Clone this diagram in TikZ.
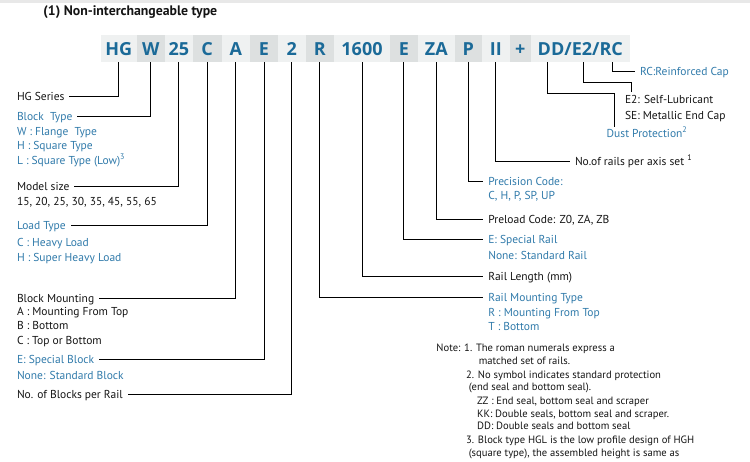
\documentclass[tikz,border=0pt]{standalone}
\usepackage{fontspec}
\setmainfont{PT Sans}
\newfontfamily\codefont{Open Sans}
\usetikzlibrary{calc}
\definecolor{codeblue}{RGB}{27,106,152}
\definecolor{lblue}{RGB}{48,122,170}
\definecolor{boxlight}{RGB}{239,241,241}
\definecolor{boxdark}{RGB}{221,224,224}
\definecolor{ink}{RGB}{20,20,20}
\definecolor{topstrip}{RGB}{232,232,232}
\begin{document}
\begin{tikzpicture}[x=1pt,y=-1pt,line width=0.9pt,
  codebox/.style={inner sep=0pt, outer sep=0pt, minimum height=27pt, text height=13pt, text depth=0pt,
    font=\codefont\bfseries\fontsize{18}{20}\selectfont, text=codeblue},
  lab/.style={anchor=west, inner xsep=0pt, inner ysep=0pt, outer xsep=5pt, outer ysep=0pt,
    text height=8.5pt, text depth=0.5pt, font=\fontsize{11.5}{13}\selectfont, text=ink},
  blab/.style={lab, text=lblue},
  notetxt/.style={anchor=west, inner sep=0pt, text height=7pt, text depth=0.5pt,
    font=\fontsize{10.6}{12}\selectfont, text=ink}]
\useasboundingbox (0,0) rectangle (750,461);
\fill[topstrip] (0,0) rectangle (750,3);

% title
\node[anchor=west, inner sep=0pt, font=\bfseries\fontsize{13.8}{15}\selectfont, text=ink] (title) at (43,12) {(1) Non-interchangeable type};

% code row
\node[codebox, fill=boxlight, minimum width=35.7pt] (hg) at (118.85,48.5) {HG};
\node[codebox, fill=boxdark, minimum width=28.3pt] (w) at (150.85,48.5) {W};
\node[codebox, fill=boxlight, minimum width=27.7pt] (sz) at (178.85,48.5) {25};
\node[codebox, fill=boxdark, minimum width=29pt] (ld) at (207.2,48.5) {C};
\node[codebox, fill=boxlight, minimum width=28.3pt] (mt) at (235.85,48.5) {A};
\node[codebox, fill=boxdark, minimum width=28pt] (sb) at (264,48.5) {E};
\node[codebox, fill=boxlight, minimum width=27.7pt] (nb) at (291.85,48.5) {2};
\node[codebox, fill=boxdark, minimum width=28.3pt] (rm) at (319.85,48.5) {R};
\node[codebox, fill=boxlight, minimum width=56pt] (len) at (362,48.5) {1600};
\node[codebox, fill=boxdark, minimum width=27.7pt] (sr) at (403.85,48.5) {E};
\node[codebox, fill=boxlight, minimum width=37.3pt] (za) at (436.35,48.5) {ZA};
\node[codebox, fill=boxdark, minimum width=26.7pt] (pr) at (468.35,48.5) {P};
\node[codebox, fill=boxlight, minimum width=28.3pt] (ii) at (495.85,48.5) {II};
\node[codebox, fill=boxdark, minimum width=20.7pt] (plus) at (520.35,48.5) {+};
\node[codebox, fill=boxlight, minimum width=99.3pt] (ddbox) at (580.35,48.5) {DD/E2/RC};
\coordinate (ddt) at (547.3,62);
\coordinate (e2t) at (583.3,62);
\coordinate (rct) at (612.5,62);

% left labels
\node[lab] (hgs) at (12,96) {HG Series};
\node[blab] (bt) at (12,116.5) {Block\ \ Type};
\node[blab] (bt1) at (12,131) {W : Flange\ \ Type};
\node[blab] (bt2) at (12,145.5) {H : Square Type};
\node[blab] (bt3) at (12,160) {L : Square Type (Low)\textsuperscript{3}};
\node[lab] (ms) at (12,186.7) {Model size};
\node[lab] (ms1) at (12,201) {15, 20, 25, 30, 35, 45, 55, 65};
\node[blab] (lt) at (12,225.7) {Load Type};
\node[blab] (lt1) at (12,242) {C : Heavy Load};
\node[blab] (lt2) at (12,257.5) {H : Super Heavy Load};
\node[lab] (bm) at (12,298) {Block Mounting};
\node[lab] (bm1) at (12,311.5) {A : Mounting From Top};
\node[lab] (bm2) at (12,325.5) {B : Bottom};
\node[lab] (bm3) at (12,340) {C : Top or Bottom};
\node[blab] (esb) at (12,359.5) {E: Special Block};
\node[blab] (esb1) at (12,375) {None: Standard Block};
\node[lab] (nbr) at (12,394) {No. of Blocks per Rail};

% right labels
\node[blab] (rcl) at (635,71.7) {RC:Reinforced Cap};
\node[lab] (e2l) at (620,99.7) {E2: Self-Lubricant};
\node[lab] (sel) at (620,115) {SE: Metallic End Cap};
\node[blab] (dpl) at (601.7,133) {Dust Protection\textsuperscript{2}};
\node[lab] (nor) at (570,161) {No.of rails per axis set \textsuperscript{1}};
\node[blab] (pc) at (483.3,181.3) {Precision Code:};
\node[blab] (pc1) at (483.3,195.7) {C, H, P, SP, UP};
\node[lab] (plc) at (483.3,219) {Preload Code: Z0, ZA, ZB};
\node[blab] (esr) at (483.3,239.3) {E: Special Rail};
\node[blab] (esr1) at (483.3,255) {None: Standard Rail};
\node[lab] (rl) at (483.3,276) {Rail Length (mm)};
\node[blab] (rmt) at (483.3,297.7) {Rail Mounting Type};
\node[blab] (rmt1) at (483.3,312.3) {R : Mounting From Top};
\node[blab] (rmt2) at (483.3,326.7) {T : Bottom};

% notes
\node[notetxt] (n1) at (436,348.3) {Note: 1. The roman numerals express a};
\node[notetxt] (n1b) at (478.3,361.7) {matched set of rails.};
\node[notetxt] (n2) at (465.7,375) {2. No symbol indicates standard protection};
\node[notetxt] (n2b) at (468.3,387.7) {(end seal and bottom seal).};
\node[notetxt] (n2c) at (476.7,401.7) {ZZ : End seal, bottom seal and scraper};
\node[notetxt] (n2d) at (476.7,414) {KK: Double seals, bottom seal and scraper.};
\node[notetxt] (n2e) at (476.7,426) {DD: Double seals and bottom seal};
\node[notetxt] (n3) at (465.7,440.7) {3. Block type HGL is the low profile design of HGH};
\node[notetxt] (n3b) at (468.3,453.3) {(square type), the assembled height is same as};

% connectors left
\draw (hg.south) |- (hgs.east);
\draw (w.south) |- (bt.east);
\draw (sz.south) |- (ms.east);
\draw (ld.south) |- (lt.east);
\draw (mt.south) |- (bm.east);
\draw (sb.south) |- (esb.east);
\draw (nb.south) |- (nbr.east);

% connectors right
\draw (rm.south) |- (rmt.west);
\draw (len.south) |- (rl.west);
\draw (sr.south) |- (esr.west);
\draw (za.south) |- (plc.west);
\draw (pr.south) |- (pc.west);
\draw (ii.south) |- (nor.west);
\coordinate (ddk) at (614.3,93.3);
\draw (ddt) |- (ddk) -- ($(ddk |- dpl.north)+(0,-2)$);
\coordinate (e2k) at (631.7,82.5);
\draw (e2t) |- (e2k) -- ($(e2k |- e2l.north)+(0,-3.5)$);
\draw (rct) |- (rcl.west);
\end{tikzpicture}
\end{document}
